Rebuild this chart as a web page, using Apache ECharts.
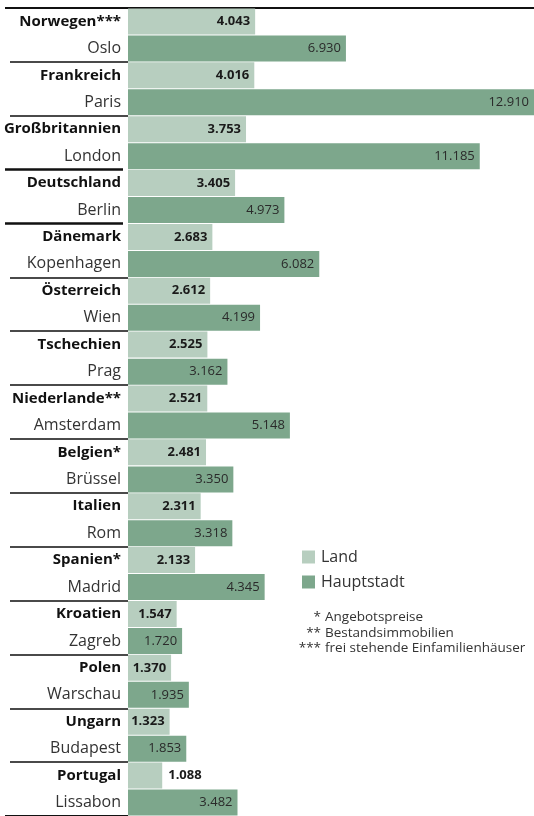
<!DOCTYPE html>
<html>
<head>
<meta charset="utf-8">
<script src="https://cdn.jsdelivr.net/npm/echarts@6/dist/echarts.min.js"></script>
<style>
  html, body { margin: 0; padding: 0; background: #fff; }
  #chart { width: 534px; height: 816px; }
</style>
</head>
<body>
<div id="chart"></div>
<script>
// Immobilienpreise: Landesdurchschnitt und Hauptstadt
const countries = ['Norwegen***', 'Frankreich', 'Großbritannien', 'Deutschland', 'Dänemark',
  'Österreich', 'Tschechien', 'Niederlande**', 'Belgien*', 'Italien', 'Spanien*',
  'Kroatien', 'Polen', 'Ungarn', 'Portugal'];
const capitals = ['Oslo', 'Paris', 'London', 'Berlin', 'Kopenhagen', 'Wien', 'Prag',
  'Amsterdam', 'Brüssel', 'Rom', 'Madrid', 'Zagreb', 'Warschau', 'Budapest', 'Lissabon'];
const landValues = [4043, 4016, 3753, 3405, 2683, 2612, 2525, 2521, 2481, 2311, 2133,
  1547, 1370, 1323, 1088];
const capitalValues = [6930, 12910, 11185, 4973, 6082, 4199, 3162, 5148, 3350, 3318,
  4345, 1720, 1935, 1853, 3482];
const seriesNames = ['Land', 'Hauptstadt'];
const footnotes = [
  ['*', 'Angebotspreise'],
  ['**', 'Bestandsimmobilien'],
  ['***', 'frei stehende Einfamilienhäuser']
];

const FONT = '"Open Sans", "Noto Sans", sans-serif';
const LAND_COLOR = '#b7cebf';
const CAPITAL_COLOR = '#7da78c';
const darkRules = [3, 4];   // black separators above Deutschland and Dänemark

function fmt(v) {
  return String(v).replace(/\B(?=(\d{3})+(?!\d))/g, '.');
}

const chart = echarts.init(document.getElementById('chart'), null, { renderer: 'canvas' });

function ruleAxis(offset, length, color, width, test) {
  return {
    type: 'category',
    data: countries,
    inverse: true,
    position: 'left',
    offset: offset,
    axisLine: { show: false },
    axisLabel: { show: false },
    splitLine: { show: false },
    axisTick: {
      show: true,
      inside: false,
      length: length,
      interval: (idx) => test(idx),
      lineStyle: { color: color, width: width }
    }
  };
}

// footnote lines: asterisks right-aligned, explanations left-aligned
const footnoteGraphics = [];
footnotes.forEach((f, i) => {
  const y = 617 + i * 15.7;
  footnoteGraphics.push({
    type: 'text', x: 321, y: y, silent: true,
    style: { text: f[0], font: '13.5px ' + FONT, fill: '#333', textAlign: 'right', textVerticalAlign: 'middle' }
  });
  footnoteGraphics.push({
    type: 'text', x: 325, y: y, silent: true,
    style: { text: f[1], font: '13.5px ' + FONT, fill: '#333', textAlign: 'left', textVerticalAlign: 'middle' }
  });
});

const option = {
  animation: false,
  backgroundColor: '#fff',
  grid: { left: 128, right: 0, top: 8, height: 810, containLabel: false },
  xAxis: {
    type: 'value',
    position: 'top',
    min: 0,
    max: 12910,
    axisLine: { show: true, lineStyle: { color: '#111', width: 2 } },
    axisTick: { show: false },
    axisLabel: { show: false },
    splitLine: { show: false }
  },
  yAxis: [
    {
      type: 'category',
      data: countries,
      inverse: true,
      position: 'left',
      offset: 5,
      axisLine: { show: false },
      axisTick: {
        show: true,
        length: 118,
        interval: (idx) => idx !== 0 && darkRules.indexOf(idx) < 0,
        lineStyle: { color: '#4a4a4a', width: 2 }
      },
      splitLine: { show: false },
      axisLabel: {
        margin: 2,
        formatter: (value, idx) => '{c|' + value + '}\n{d|' + capitals[idx] + '}',
        rich: {
          c: { fontFamily: FONT, fontWeight: 'bold', fontSize: 15, color: '#111', lineHeight: 27, align: 'right' },
          d: { fontFamily: FONT, fontSize: 16, color: '#333', lineHeight: 27, align: 'right' }
        }
      }
    },
    ruleAxis(5, 118, '#111', 2.5, (idx) => darkRules.indexOf(idx) >= 0),
    ruleAxis(0, 123, '#111', 2, (idx) => idx === 0)
  ],
  legend: {
    orient: 'vertical',
    left: 297,
    top: 544,
    itemWidth: 13,
    itemHeight: 13,
    itemGap: 9,
    icon: 'rect',
    data: seriesNames,
    textStyle: { fontFamily: FONT, fontSize: 16, color: '#333', padding: [0, 0, 0, 1] }
  },
  series: [
    {
      name: seriesNames[0],
      type: 'bar',
      yAxisIndex: 0,
      barWidth: 26,
      barGap: '4%',
      itemStyle: { color: LAND_COLOR },
      label: {
        show: true,
        position: 'insideRight',
        distance: 5,
        fontFamily: FONT,
        fontWeight: 'bold',
        fontSize: 13,
        color: '#1a1a1a',
        formatter: (p) => fmt(p.value)
      },
      data: landValues.map((v, i) => i === landValues.length - 1
        ? { value: v, label: { position: 'right', distance: 6 } }
        : v)
    },
    {
      name: seriesNames[1],
      type: 'bar',
      yAxisIndex: 0,
      barWidth: 26,
      itemStyle: { color: CAPITAL_COLOR },
      label: {
        show: true,
        position: 'insideRight',
        distance: 5,
        fontFamily: FONT,
        fontSize: 13,
        color: '#2a2a2a',
        formatter: (p) => fmt(p.value)
      },
      data: capitalValues
    }
  ],
  graphic: footnoteGraphics
};

chart.setOption(option);
</script>
</body>
</html>
